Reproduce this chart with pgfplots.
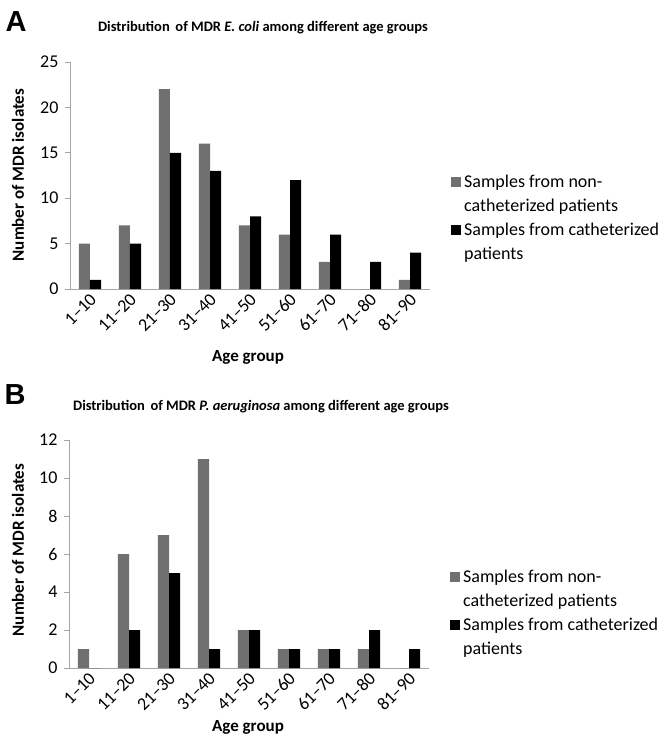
\documentclass[border=0pt]{standalone}
\usepackage{fontspec}
\setmainfont{Carlito}
\newfontfamily\panelfont{Liberation Sans}
\usepackage{pgfplots}
\pgfplotsset{compat=1.18}
\definecolor{bargrey}{RGB}{112,112,112}
\definecolor{axgrey}{RGB}{165,165,165}
\pgfplotsset{
  mybars/.style={
    scale only axis, width=360pt,
    xmin=-0.5, xmax=8.5, ymin=0,
    axis lines=left, axis line style={-, draw=axgrey, line width=0.8pt},
    xtick={0,...,8},
    xticklabels={1–10,11–20,21–30,31–40,41–50,51–60,61–70,71–80,81–90},
    x tick style={draw=none},
    y tick style={draw=axgrey, line width=0.8pt},
    tick align=outside, major tick length=5pt,
    ytick pos=left, xtick pos=bottom,
    ticklabel style={font=\fontsize{18}{20}\selectfont},
    yticklabel style={xshift=-3pt},
    xticklabel style={rotate=45, anchor=east, xshift=4pt, yshift=-4pt},
    /pgf/number format/assume math mode=true,
    ybar, bar width=0.28,
    legend cell align=left,
    legend image code/.code={\fill[##1] (0pt,-3.5pt) rectangle (10pt,6.5pt);},
    legend style={draw=none, fill=none, anchor=north west,
      font=\fontsize{18}{24}\selectfont,
      nodes={text height=13pt, text depth=5pt, inner xsep=3pt, inner ysep=1pt}, row sep=4pt},
  }
}
\begin{document}
\begin{tikzpicture}[x=1pt,y=1pt]
\path (0,0) rectangle (668,-746);
% Panel A
\node[font=\panelfont\bfseries\fontsize{29}{30}\selectfont] at (16,-22) {A};
\node[font=\bfseries\fontsize{14.5}{16}\selectfont] at (263,-28) {Distribution\, of MDR \textit{E. coli} among different age groups};
\begin{axis}[mybars, height=227pt, at={(70pt,-289pt)}, anchor=south west,
  ymax=25, ytick={0,5,...,25},
  legend style={at={(1.05,0.52)}}]
\addplot[fill=bargrey, draw=none, bar shift=-0.14] coordinates {(0,5) (1,7) (2,22) (3,16) (4,7) (5,6) (6,3) (7,0) (8,1)};
\addlegendentry{Samples from non-}
\addlegendimage{empty legend}
\addlegendentry{catheterized patients}
\addplot[fill=black, draw=none, bar shift=0.14] coordinates {(0,1) (1,5) (2,15) (3,13) (4,8) (5,12) (6,6) (7,3) (8,4)};
\addlegendentry{Samples from catheterized}
\addlegendimage{empty legend}
\addlegendentry{patients}
\end{axis}
\node[rotate=90, font=\bfseries\fontsize{17}{18}\selectfont] at (18,-175) {Number of MDR isolates};
\node[font=\bfseries\fontsize{17}{18}\selectfont] at (248,-357) {Age group};
% Panel B
\node[font=\panelfont\bfseries\fontsize{29}{30}\selectfont] at (15,-395) {B};
\node[font=\bfseries\fontsize{14.5}{16}\selectfont] at (261,-407) {Distribution\, of MDR \textit{P. aeruginosa} among different age groups};
\begin{axis}[mybars, height=228pt, at={(69pt,-668pt)}, anchor=south west,
  ymax=12, ytick={0,2,...,12},
  legend style={at={(1.05,0.447)}}]
\addplot[fill=bargrey, draw=none, bar shift=-0.14] coordinates {(0,1) (1,6) (2,7) (3,11) (4,2) (5,1) (6,1) (7,1) (8,0)};
\addlegendentry{Samples from non-}
\addlegendimage{empty legend}
\addlegendentry{catheterized patients}
\addplot[fill=black, draw=none, bar shift=0.14] coordinates {(0,0) (1,2) (2,5) (3,1) (4,2) (5,1) (6,1) (7,2) (8,1)};
\addlegendentry{Samples from catheterized}
\addlegendimage{empty legend}
\addlegendentry{patients}
\end{axis}
\node[rotate=90, font=\bfseries\fontsize{17}{18}\selectfont] at (18,-550) {Number of MDR isolates};
\node[font=\bfseries\fontsize{17}{18}\selectfont] at (248,-727) {Age group};
\end{tikzpicture}
\end{document}
